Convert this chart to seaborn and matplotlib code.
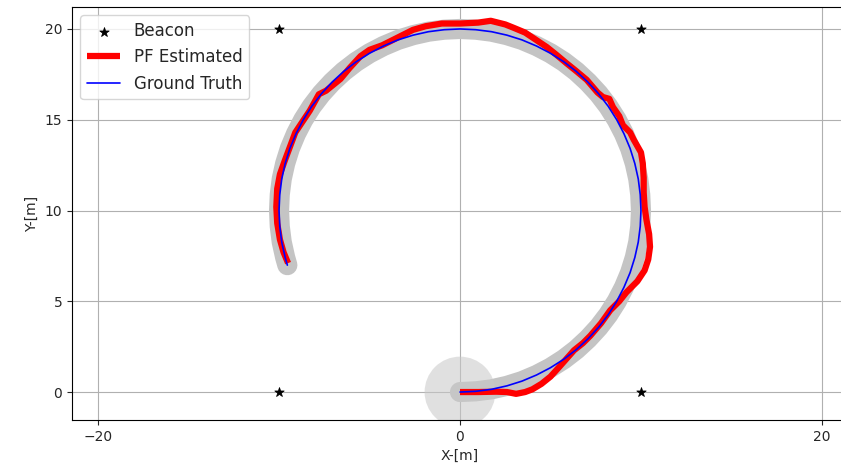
import matplotlib
matplotlib.use("Agg")
import matplotlib.pyplot as plt
import seaborn as sns
import pandas as pd

# Beacon positions
beacon_x = [-10, 10, -10, 10]
beacon_y = [0, 0, 20, 20]

# Ground truth trajectory
gt_x = [0.00, 0.87, 1.74, 2.59, 3.42, 4.23, 5.00, 5.74, 6.43, 7.07, 7.66, 8.19, 8.66, 9.06,
        9.40, 9.66, 9.85, 9.96, 10.00, 9.96, 9.85, 9.66, 9.40, 9.06, 8.66, 8.19, 7.66, 7.07,
        6.43, 5.74, 5.00, 4.23, 3.42, 2.59, 1.74, 0.87, 0.00, -0.87, -1.74, -2.59, -3.42,
        -4.23, -5.00, -5.74, -6.43, -7.07, -7.66, -8.19, -8.66, -9.06, -9.40, -9.66, -9.85,
        -9.96, -10.00, -9.96, -9.85, -9.66, -9.54]
gt_y = [0.00, 0.04, 0.15, 0.34, 0.60, 0.94, 1.34, 1.81, 2.34, 2.93, 3.57, 4.26, 5.00, 5.77,
        6.58, 7.41, 8.26, 9.13, 10.00, 10.87, 11.74, 12.59, 13.42, 14.23, 15.00, 15.74,
        16.43, 17.07, 17.66, 18.19, 18.66, 19.06, 19.40, 19.66, 19.85, 19.96, 20.00, 19.96,
        19.85, 19.66, 19.40, 19.06, 18.66, 18.19, 17.66, 17.07, 16.43, 15.74, 15.00, 14.23,
        13.42, 12.59, 11.74, 10.87, 10.00, 9.13, 8.26, 7.41, 6.99]

# Particle filter estimate
pf_x = [0.0, 1.0, 2.0, 2.6, 3.1, 3.6, 4.0, 4.5, 5.0, 5.5, 5.9, 6.3, 6.8, 7.2, 7.8, 8.3, 8.8,
        9.2, 9.8, 10.2, 10.4, 10.5, 10.45, 10.3, 10.2, 10.15, 10.15, 10.1, 10.0, 9.6, 9.4,
        9.0, 8.8, 8.45, 8.25, 7.9, 7.6, 7.0, 6.4, 5.9, 5.3, 4.8, 4.2, 3.6, 3.0, 2.5, 1.7,
        1.0, 0.0, -1.0, -1.9, -2.6, -3.2, -3.8, -4.3, -5.0, -5.5, -6.1, -6.6, -7.4, -7.8,
        -8.3, -8.7, -9.1, -9.4, -9.7, -9.95, -10.1, -10.15, -10.1, -9.95, -9.75, -9.5]
pf_y = [0.0, 0.0, 0.02, 0.0, -0.1, 0.0, 0.15, 0.45, 0.85, 1.4, 1.85, 2.3, 2.7, 3.1, 3.8, 4.5,
        5.0, 5.5, 6.1, 6.7, 7.3, 8.0, 8.7, 9.5, 10.2, 11.0, 11.8, 12.6, 13.2, 13.9, 14.3,
        14.7, 15.2, 15.7, 16.15, 16.25, 16.5, 17.2, 17.7, 18.1, 18.6, 19.0, 19.4, 19.8,
        20.05, 20.25, 20.45, 20.35, 20.3, 20.3, 20.15, 19.95, 19.65, 19.35, 19.1, 18.85,
        18.5, 17.85, 17.25, 16.6, 16.4, 15.5, 14.9, 14.3, 13.5, 12.7, 12.0, 11.2, 10.2,
        9.3, 8.4, 7.7, 7.1]

x_ticks = [-20, 0, 20]
y_ticks = [0, 5, 10, 15, 20]

sns.set_style("ticks")
plt.rcParams['font.family'] = ['DejaVu Sans']

fig = plt.figure(figsize=(8.41, 4.73), dpi=100)
ax = fig.add_axes([72 / 841, 53 / 473, 776 / 841, 413 / 473])

gt = pd.DataFrame({"x": gt_x, "y": gt_y})
pf = pd.DataFrame({"x": pf_x, "y": pf_y})
bc = pd.DataFrame({"x": beacon_x, "y": beacon_y})

# particle cloud
sns.lineplot(data=gt, x="x", y="y", sort=False, estimator=None, color="#c4c4c4",
             linewidth=14.5, solid_capstyle="round", solid_joinstyle="round", ax=ax, zorder=2)
sns.scatterplot(x=[0], y=[0], s=2600, color="#c8c8c8", alpha=0.55, edgecolor="none",
                ax=ax, zorder=2)

sns.scatterplot(data=bc, x="x", y="y", marker="*", s=50, color="black", edgecolor="black",
                label="Beacon", ax=ax, zorder=4)
sns.lineplot(data=pf, x="x", y="y", sort=False, estimator=None, color="red", linewidth=4.5,
             solid_joinstyle="round", solid_capstyle="butt", label="PF Estimated", ax=ax, zorder=3)
sns.lineplot(data=gt, x="x", y="y", sort=False, estimator=None, color="blue", linewidth=1.2,
             label="Ground Truth", ax=ax, zorder=3.5)

ax.set_xlim(-21.44, 21.44)
ax.set_ylim(-1.54, 21.21)
ax.set_xticks(x_ticks)
ax.set_yticks(y_ticks)
ax.grid(True, color="#b0b0b0", linewidth=0.8)
ax.set_xlabel("X-[m]", fontsize=10)
ax.set_ylabel("Y-[m]", fontsize=10)
ax.tick_params(labelsize=10)
for s in ax.spines.values():
    s.set_visible(True)
    s.set_color("black")
ax.legend(loc="upper left", fontsize=12, framealpha=0.8)

fig.savefig("out.png", dpi=100)
